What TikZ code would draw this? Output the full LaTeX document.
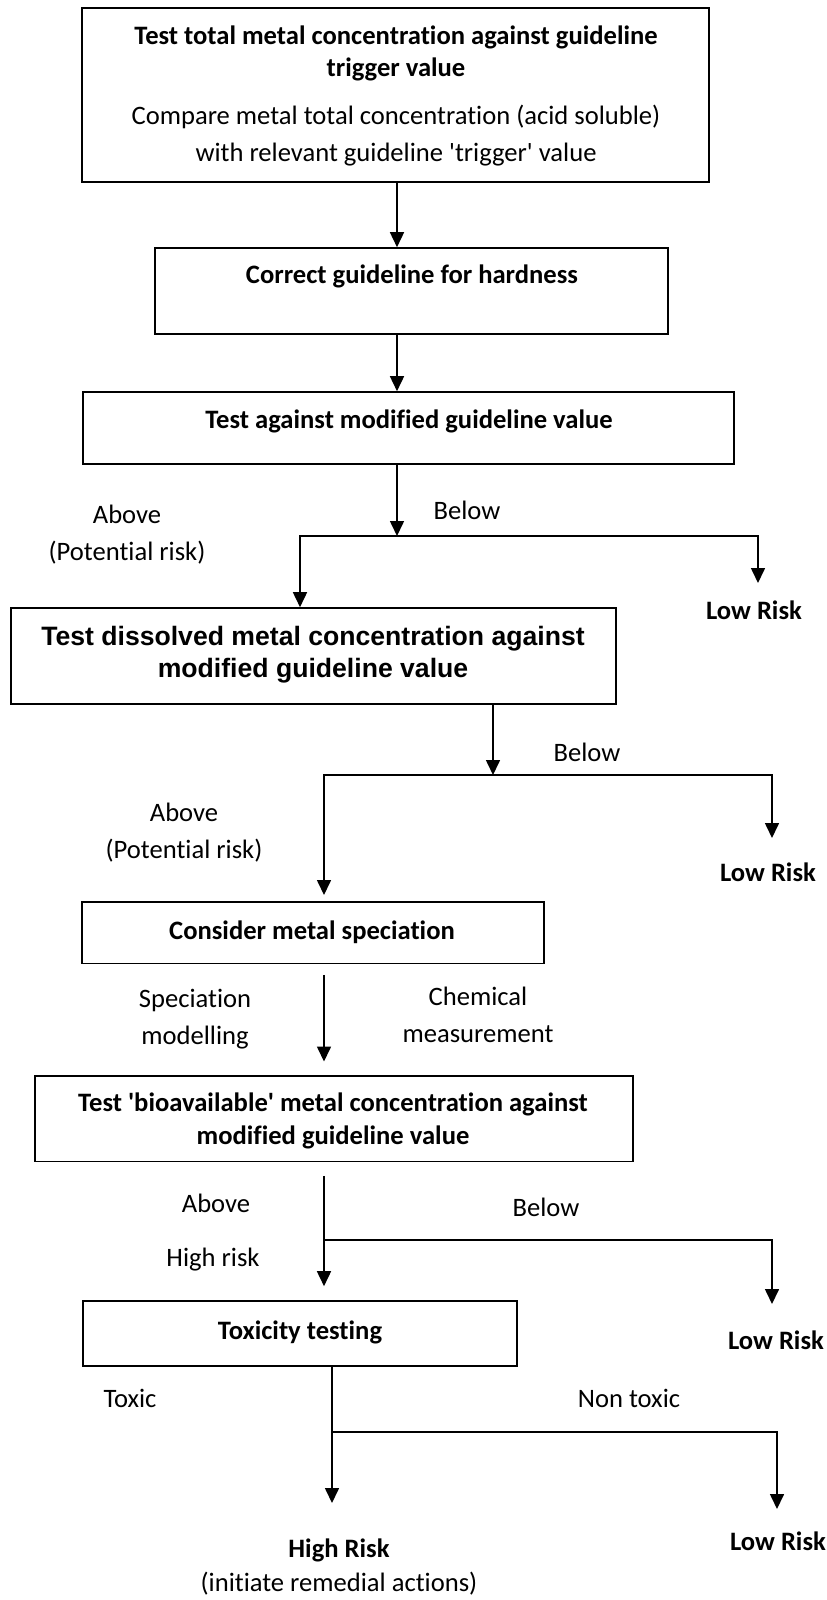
\documentclass[tikz,border=0pt]{standalone}
\usepackage{fontspec}
\setmainfont{Carlito}[Ligatures={TeX,NoCommon}]
\newfontfamily\arialfont{Liberation Sans}
\usetikzlibrary{arrows.meta,fit}
\begin{document}
\begin{tikzpicture}[x=0.5pt,y=-0.5pt,
  box/.style={draw, line width=0.8pt, inner sep=0pt, rectangle},
  txt/.style={inner sep=0pt, anchor=base, align=center, font=\fontsize{13.3pt}{18.5pt}\selectfont},
  btxt/.style={txt, font=\fontsize{13.3pt}{16.5pt}\selectfont\bfseries},
  atxt/.style={txt, font=\fontsize{13.3pt}{16pt}\selectfont\arialfont\bfseries},
  arr/.style={line width=0.8pt, -{Triangle[length=7.5pt,width=7pt]}},
  ln/.style={line width=0.8pt},
]
\useasboundingbox (0,0) rectangle (826,1600);
% boxes
\node[box, fit={(82,8) (709,182)}] (b1) {};
\node[box, fit={(155,248) (668,334)}] (b2) {};
\node[box, fit={(83,392) (734,464)}] (b3) {};
\node[box, fit={(11,608) (616,704)}] (b4) {};
\node[box, fit={(82,902) (544,963.5)}] (b5) {};
\node[box, fit={(35,1076) (633,1161.5)}] (b6) {};
\node[box, fit={(83,1301) (517,1366)}] (b7) {};
% box texts (base anchor = last line's baseline)
\node[btxt] (t1a) at (396,77) {Test total metal concentration against guideline\\trigger value};
\node[txt] (t1b) at (396,162) {Compare metal total concentration (acid soluble)\\with relevant guideline \textquotesingle trigger\textquotesingle\ value};
\node[btxt] (t2) at (412,283) {Correct guideline for hardness};
\node[btxt] (t3) at (409,428) {Test against modified guideline value};
\node[atxt] (t4) at (313,677) {Test dissolved metal concentration against\\modified guideline value};
\node[btxt] (t5) at (312,939) {Consider metal speciation};
\node[btxt] (t6) at (333,1144) {Test \textquotesingle bioavailable\textquotesingle\ metal concentration against\\modified guideline value};
\node[btxt] (t7) at (300,1339) {Toxicity testing};
% labels
\node[txt] (below1) at (467,519) {Below};
\node[txt] (above1) at (127,560) {Above\\(Potential risk)};
\node[btxt] (lr1) at (754,619) {Low Risk};
\node[txt] (below2) at (587,761) {Below};
\node[txt] (above2) at (184,858) {Above\\(Potential risk)};
\node[btxt] (lr2) at (768,881) {Low Risk};
\node[txt] (spec) at (195,1044) {Speciation\\modelling};
\node[txt] (chem) at (478,1042) {Chemical\\measurement};
\node[txt] (above3) at (216,1212) {Above};
\node[txt] (hrisk) at (213,1266) {High risk};
\node[txt] (below3) at (546,1216) {Below};
\node[btxt] (lr3) at (776,1349) {Low Risk};
\node[txt] (toxic) at (130,1407) {Toxic};
\node[txt] (nontoxic) at (629,1407) {Non toxic};
\node[txt, font=\fontsize{13.3pt}{17pt}\selectfont] (hr) at (339,1591) {{\bfseries High Risk}\\(initiate remedial actions)};
\node[btxt] (lr4) at (778,1550) {Low Risk};
% coordinates
\coordinate (c397) at (397,0);
\coordinate (c324) at (324,0);
\coordinate (c332) at (332,0);
\coordinate (j1) at (397,536);
\coordinate (j1l) at (300,536);
\coordinate (j1r) at (758,536);
\coordinate (e1) at (758,583);
\coordinate (j2) at (493,775);
\coordinate (j2l) at (324,775);
\coordinate (j2r) at (772,775);
\coordinate (e2l) at (324,895);
\coordinate (e2) at (772,838);
\coordinate (j3) at (324,1240);
\coordinate (j3r) at (772,1240);
\coordinate (e3) at (772,1304);
\coordinate (j4) at (332,1432);
\coordinate (j4r) at (777,1432);
\coordinate (e4l) at (332,1503);
\coordinate (e4) at (777,1509);
% connectors
\draw[arr] (b1.south -| c397) -- (b2.north -| c397);
\draw[arr] (b2.south -| c397) -- (b3.north -| c397);
\draw[arr] (b3.south -| j1) -- (j1);
\draw[arr] (j1r) -- (j1l) -- (b4.north -| j1l);
\draw[arr, line cap=rect] (j1r) -- (e1);
\draw[arr] (b4.south -| j2) -- (j2);
\draw[arr] (j2r) -- (j2l) -- (e2l);
\draw[arr, line cap=rect] (j2r) -- (e2);
\draw[arr, shorten <=5.25pt, shorten >=6.85pt] (b5.south -| c324) -- (b6.north -| c324);
\draw[arr, shorten <=6.75pt, shorten >=7pt] (b6.south -| c324) -- (b7.north -| c324);
\draw[arr] (j3) -- (j3r) -- (e3);
\draw[arr] (b7.south -| c332) -- (e4l);
\draw[arr] (j4) -- (j4r) -- (e4);
\end{tikzpicture}
\end{document}
